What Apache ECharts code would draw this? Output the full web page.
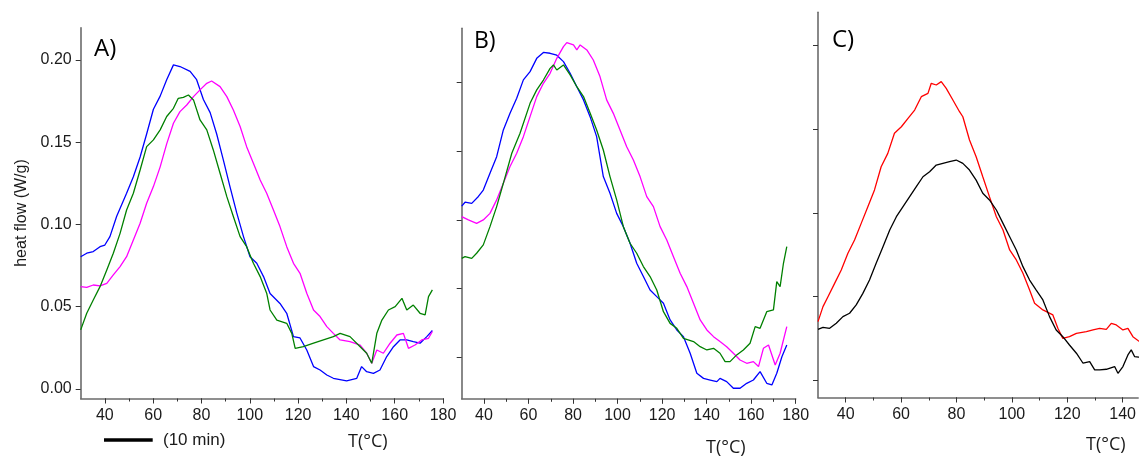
<!DOCTYPE html>
<html>
<head>
<meta charset="utf-8">
<script src="https://cdn.jsdelivr.net/npm/echarts@6/dist/echarts.min.js"></script>
<style>
html,body{margin:0;padding:0;background:#fff;}
#c{width:1139px;height:457px;}
</style>
</head>
<body>
<div id="c"></div>
<script>
// ---- data (T in °C, heat flow in W/g) ----
const xTickLabels = [40, 60, 80, 100, 120, 140, 160, 180];
const xMinorTicks = [40, 50, 60, 70, 80, 90, 100, 110, 120, 130, 140, 150, 160, 170, 180];
const yTickLabels = [0, 0.05, 0.10, 0.15, 0.20];

const aBlue = [[30,0.0804],[32.5,0.0825],[35.2,0.0835],[38,0.0865],[40,0.0875],[42.1,0.0926],[44.9,0.105],[49,0.119],[51.8,0.129],[54.6,0.141],[57.3,0.155],[60.1,0.170],[62.9,0.178],[65.6,0.188],[68.4,0.197],[71.1,0.196],[75.3,0.193],[78,0.188],[80.8,0.176],[83.6,0.168],[86.3,0.155],[89.1,0.139],[91.8,0.123],[94.6,0.107],[97.4,0.0926],[100.1,0.0804],[102.9,0.0764],[105.7,0.0683],[108.4,0.058],[112.5,0.052],[115.3,0.046],[118.1,0.0318],[120.8,0.031],[123.6,0.0237],[126.4,0.0136],[129.1,0.0115],[131.9,0.0085],[134.6,0.0065],[140.1,0.0049],[144.3,0.0065],[146.3,0.0136],[148.4,0.0105],[151.2,0.0095],[153.9,0.0115],[156.7,0.0197],[159.5,0.0257],[162.2,0.0298],[165,0.0298],[167.7,0.0288],[170.5,0.0278],[173.3,0.0318],[175.6,0.0355]];
const aMagenta = [[30,0.0622],[32.5,0.0618],[35.2,0.0632],[38,0.0626],[40.8,0.0642],[43.5,0.0693],[46.3,0.0744],[49,0.0804],[51.8,0.0906],[54.6,0.1007],[57.3,0.1129],[60.1,0.123],[62.9,0.135],[65.6,0.149],[68.4,0.1615],[71.1,0.1686],[73.9,0.1726],[76.7,0.1777],[79.4,0.1818],[82.2,0.1858],[84.2,0.1872],[87.7,0.1838],[90.5,0.1777],[93.2,0.1696],[96,0.1595],[98.7,0.1473],[101.5,0.1372],[104.3,0.127],[107,0.119],[109.8,0.1088],[112.5,0.0987],[115.3,0.0865],[118.1,0.0764],[120.8,0.0703],[123.6,0.0582],[126.4,0.048],[129.1,0.044],[131.9,0.0379],[134.6,0.0338],[137.4,0.0298],[141.5,0.0288],[145.7,0.0267],[148.4,0.0217],[150.5,0.0156],[152.6,0.0237],[155.3,0.0217],[158.1,0.0278],[160.9,0.0328],[163.6,0.0338],[165.7,0.0247],[168.4,0.0267],[171.2,0.0298],[174,0.0308],[175.6,0.0349]];
const aGreen = [[30,0.0359],[32.5,0.046],[35.2,0.0541],[38,0.0622],[40.8,0.0723],[43.5,0.0825],[46.3,0.0946],[49,0.1088],[51.8,0.119],[54.6,0.1331],[57.3,0.1473],[60.1,0.1514],[62.9,0.1575],[65.6,0.1656],[68.4,0.1706],[70.4,0.1767],[72.5,0.1773],[74.6,0.1787],[76.7,0.1757],[79.4,0.1635],[82.2,0.1575],[84.9,0.1453],[87.7,0.1311],[90.5,0.1169],[93.2,0.1048],[96,0.0926],[98.7,0.0865],[101.5,0.0764],[104.3,0.0683],[107,0.0582],[108.4,0.048],[111.2,0.0419],[115.3,0.0399],[117.4,0.0338],[118.8,0.0247],[122.2,0.0257],[126.4,0.0278],[130.5,0.0298],[134.6,0.0318],[137.4,0.0338],[141.5,0.0318],[145.7,0.0257],[148.4,0.0217],[150.5,0.0156],[151.2,0.0165],[152.6,0.0338],[154.7,0.0419],[157.4,0.048],[160.2,0.05],[163,0.0551],[165,0.048],[167.7,0.051],[170.5,0.046],[172.6,0.045],[174,0.0561],[175.6,0.0602]];

const bBlue = [[30,0.110],[31.5,0.1128],[34.5,0.112],[37.5,0.117],[39.7,0.1217],[42.7,0.134],[45.7,0.146],[48.7,0.1655],[51.7,0.1776],[54.7,0.1886],[57.7,0.202],[60.7,0.208],[63.7,0.2177],[66.7,0.222],[69.7,0.2214],[72.7,0.22],[75.7,0.2153],[78.7,0.2068],[81.7,0.197],[84.7,0.1874],[87.7,0.175],[90.6,0.1606],[93.6,0.1315],[96.6,0.1193],[99.6,0.1047],[102.6,0.095],[105.6,0.0829],[108.6,0.0683],[111.6,0.0586],[114.6,0.0488],[117.6,0.044],[120.6,0.0391],[123.6,0.027],[126.6,0.0197],[129.6,0.0148],[132.6,0.0027],[135.6,-0.0119],[138.6,-0.0156],[141.6,-0.0168],[144.6,-0.018],[146,-0.0156],[149,-0.018],[152,-0.0228],[155,-0.0228],[158,-0.0192],[161,-0.0168],[164,-0.0107],[167,-0.0192],[169.3,-0.0204],[171.5,-0.0119],[173.8,0.0002],[176,0.0087]];
const bMagenta = [[30,0.1023],[33,0.0999],[36.7,0.0974],[39.7,0.0999],[42.7,0.1047],[45.7,0.1145],[48.7,0.1266],[51.7,0.1388],[54.7,0.1485],[57.7,0.1606],[60.7,0.1752],[63.7,0.1898],[66.7,0.1995],[69.7,0.2068],[72.7,0.2177],[75.7,0.2262],[77.2,0.2292],[80.2,0.2275],[81.7,0.2238],[83.2,0.2275],[86.2,0.2238],[89.1,0.2165],[92.1,0.2044],[95.1,0.1874],[98.1,0.1776],[101.1,0.1655],[104.1,0.1533],[107.1,0.1436],[110.1,0.1315],[113.1,0.1169],[116.1,0.1096],[119.1,0.095],[122.1,0.0853],[125.1,0.0731],[128.1,0.061],[131.1,0.0513],[134.1,0.0391],[137.1,0.027],[140.1,0.0197],[143.1,0.0148],[146,0.0112],[149,0.0075],[152,0.0027],[155,-0.0022],[158,-0.0046],[161,-0.0034],[163.3,-0.007],[165.5,0.0063],[167.8,0.0087],[170.8,-0.0058],[173,0.0027],[176,0.0221]];
const bGreen = [[30,0.0719],[31.5,0.0731],[34.5,0.0719],[36.7,0.0756],[39.7,0.0817],[42.7,0.095],[45.7,0.1096],[48.7,0.1266],[52.5,0.1485],[56.2,0.1631],[60.7,0.1849],[63.7,0.1947],[66.7,0.2019],[69.7,0.2104],[71.2,0.2129],[72.7,0.2092],[75.7,0.2129],[78.7,0.2056],[81.7,0.197],[84.7,0.1898],[87.7,0.1776],[90.6,0.1655],[93.6,0.1509],[96.6,0.1315],[99.6,0.1145],[102.6,0.095],[105.6,0.0829],[108.6,0.0756],[111.6,0.0659],[114.6,0.0586],[117.6,0.0488],[120.6,0.033],[123.6,0.0245],[126.6,0.0209],[129.6,0.0136],[134.1,0.0112],[137.1,0.0075],[140.1,0.0051],[143.1,0.0063],[146,0.0027],[148.3,-0.0034],[150.5,-0.0034],[153.5,0.0015],[156.5,0.0051],[159.5,0.01],[161.8,0.0221],[164,0.0209],[167,0.033],[170,0.0343],[171.5,0.0549],[173,0.0513],[174.5,0.0683],[176,0.0804]];

const cRed = [[30,0.0349],[31.8,0.0439],[33.6,0.0498],[36,0.0578],[38.4,0.0658],[40.8,0.0758],[43.2,0.0837],[45.6,0.0937],[48,0.1037],[50.4,0.1137],[52.8,0.1276],[55.2,0.1356],[57.6,0.1476],[60.1,0.1515],[62.5,0.1565],[64.9,0.1615],[67.3,0.1695],[69.7,0.1715],[70.9,0.1775],[72.7,0.1765],[74.5,0.1785],[76.3,0.1745],[78.7,0.1675],[81.1,0.1605],[82.3,0.1575],[84.7,0.1436],[87.1,0.1336],[89.5,0.1216],[91.9,0.1097],[94.4,0.0977],[96.8,0.0897],[99.2,0.0778],[101.6,0.0718],[104,0.0638],[106.4,0.0538],[108.2,0.0459],[111.2,0.0419],[114.8,0.0389],[116.6,0.0309],[118.4,0.0249],[120.8,0.0259],[123.3,0.0279],[126.9,0.0289],[129.3,0.0299],[131.7,0.0309],[134.1,0.0303],[135.9,0.0339],[137.7,0.0329],[140.1,0.0299],[141.9,0.0309],[143.7,0.0259],[145.8,0.0233],[148,0.0225]];
const cBlack = [[30,0.0303],[31.8,0.0315],[34.2,0.0309],[36.6,0.0339],[39,0.0379],[41.4,0.0399],[43.8,0.0449],[46.2,0.0518],[48.6,0.0598],[51,0.0698],[53.5,0.0798],[55.9,0.0897],[58.3,0.0977],[60.7,0.1037],[63.1,0.1097],[65.5,0.1157],[67.9,0.1216],[70.3,0.1246],[72.7,0.1286],[75.1,0.1296],[77.5,0.1306],[79.9,0.1316],[82.3,0.1296],[84.7,0.1256],[87.1,0.1196],[89.5,0.1117],[91.9,0.1077],[94.4,0.1017],[96.8,0.0937],[99.2,0.0857],[101.6,0.0778],[104,0.0678],[106.4,0.0598],[108.8,0.0538],[111.2,0.0479],[113.6,0.0379],[116,0.0299],[118.4,0.0259],[120.8,0.0209],[123.3,0.016],[125.7,0.01],[128.1,0.011],[129.9,0.006],[131.7,0.006],[134.1,0.0064],[137.1,0.008],[138.3,0.004],[140.1,0.008],[141.9,0.015],[143.1,0.018],[144.3,0.014],[145.8,0.0136],[148,0.014]];

// ---- chart ----
const chart = echarts.init(document.getElementById('c'), null, {renderer: 'canvas'});
const AXIS_COLOR = '#6b6b6b';
const TICK_COLOR = '#333';
const LABEL_FONT = {fontFamily: 'Liberation Sans', fontSize: 16, color: '#1a1a1a'};

// panel C is cut off by the right image edge at about 145.6 °C
const grids = [
  {left: 80.7, top: 27.7, width: 362.3, height: 370.8},
  {left: 461.7, top: 28.3, width: 334, height: 370.5},
  {left: 818, top: 12.3, width: 321, height: 385.2}
];
const xMaxes = [180, 180, 145.6];
const yRanges = [[-0.0058, 0.2196], [-0.0305, 0.2396], [-0.0105, 0.22]];

const xAxes = [];
const yAxes = [];
grids.forEach((g, i) => {
  const maj = xTickLabels.filter(v => v <= xMaxes[i]);
  const mnr = xMinorTicks.filter(v => v <= xMaxes[i]);
  xAxes.push({
    type: 'value', gridIndex: i, min: 30, max: xMaxes[i], position: 'bottom',
    axisLine: {show: true, onZero: false, lineStyle: {color: AXIS_COLOR, width: 1.6}},
    axisTick: {show: true, customValues: mnr, length: 3, lineStyle: {color: TICK_COLOR, width: 1}},
    axisLabel: Object.assign({show: true, customValues: maj, margin: 9, showMaxLabel: true, showMinLabel: true, hideOverlap: false}, LABEL_FONT),
    splitLine: {show: false}
  });
  xAxes.push({
    type: 'value', gridIndex: i, min: 30, max: xMaxes[i], position: 'bottom',
    axisLine: {show: false, onZero: false},
    axisTick: {show: true, customValues: maj, length: 5, lineStyle: {color: TICK_COLOR, width: 1}},
    axisLabel: {show: false},
    splitLine: {show: false}
  });
  yAxes.push({
    type: 'value', gridIndex: i, min: yRanges[i][0], max: yRanges[i][1],
    axisLine: {show: true, onZero: false, lineStyle: {color: AXIS_COLOR, width: 1.6}},
    axisTick: {show: true, customValues: yTickLabels, length: 5, lineStyle: {color: TICK_COLOR, width: 1}},
    axisLabel: Object.assign({show: i === 0, customValues: yTickLabels, margin: 9,
      formatter: v => v.toFixed(2)}, LABEL_FONT),
    splitLine: {show: false}
  });
});

function line(data, color, gi) {
  return {
    type: 'line', data: data, xAxisIndex: gi * 2, yAxisIndex: gi,
    showSymbol: false, symbol: 'none', smooth: false, clip: true,
    lineStyle: {color: color, width: 1.3}, animation: false
  };
}

const annFont = 'Open Sans';
chart.setOption({
  animation: false,
  backgroundColor: '#fff',
  grid: grids,
  xAxis: xAxes,
  yAxis: yAxes,
  series: [
    line(aBlue, '#0000ff', 0), line(aMagenta, '#ff00ff', 0), line(aGreen, '#008000', 0),
    line(bBlue, '#0000ff', 1), line(bMagenta, '#ff00ff', 1), line(bGreen, '#008000', 1),
    line(cRed, '#ff0000', 2), line(cBlack, '#000000', 2)
  ],
  graphic: [
    {type: 'text', x: 21.7, y: 213, rotation: Math.PI / 2,
      style: {text: 'heat flow (W/g)', fontFamily: 'Liberation Sans', fontSize: 16, fill: '#1a1a1a', align: 'center', verticalAlign: 'middle'}},
    {type: 'text', x: 94, y: 49, style: {text: 'A)', fontFamily: annFont, fontSize: 24, fill: '#000', verticalAlign: 'middle'}},
    {type: 'text', x: 474, y: 41, style: {text: 'B)', fontFamily: annFont, fontSize: 23, fill: '#000', verticalAlign: 'middle'}},
    {type: 'text', x: 832, y: 40, style: {text: 'C)', fontFamily: annFont, fontSize: 24, fill: '#000', verticalAlign: 'middle'}},
    {type: 'text', x: 348, y: 442, style: {text: 'T(°C)', fontFamily: annFont, fontSize: 18, fill: '#1a1a1a', verticalAlign: 'middle'}},
    {type: 'text', x: 706, y: 448, style: {text: 'T(°C)', fontFamily: annFont, fontSize: 18, fill: '#1a1a1a', verticalAlign: 'middle'}},
    {type: 'text', x: 1086, y: 445, style: {text: 'T(°C)', fontFamily: annFont, fontSize: 18, fill: '#1a1a1a', verticalAlign: 'middle'}},
    {type: 'line', shape: {x1: 104, y1: 440, x2: 152.7, y2: 440}, style: {stroke: '#000', lineWidth: 3.3}},
    {type: 'text', x: 163, y: 440, style: {text: '(10 min)', fontFamily: 'Liberation Sans', fontSize: 17, fill: '#1a1a1a', verticalAlign: 'middle'}}
  ]
});
</script>
</body>
</html>
